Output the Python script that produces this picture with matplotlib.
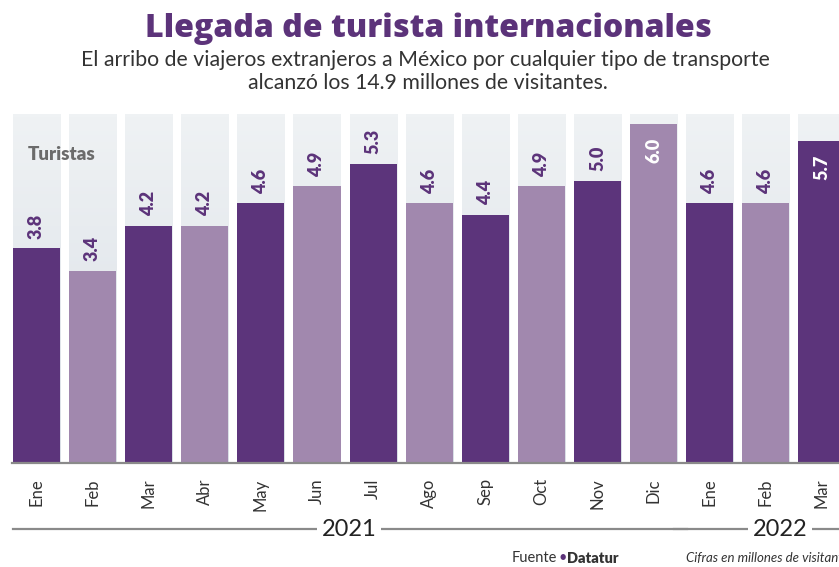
import matplotlib
matplotlib.use('Agg')
import matplotlib.pyplot as plt
import numpy as np
from matplotlib.colors import LinearSegmentedColormap

# data
months = ["Ene", "Feb", "Mar", "Abr", "May", "Jun", "Jul", "Ago", "Sep", "Oct", "Nov", "Dic",
          "Ene", "Feb", "Mar"]
values = [3.8, 3.4, 4.2, 4.2, 4.6, 4.9, 5.3, 4.6, 4.4, 4.9, 5.0, 6.0, 4.6, 4.6, 5.7]
years = ["2021", "2022"]
year_first_idx = [0, 12]
year_last_idx = [11, 14]

DARK = "#5c347b"
LIGHT = "#a188ae"
PURPLE = "#5c337a"
TXT = "#333333"
GRAY_LINE = "#8a8a8a"

NARROW = ['Lato', 'DejaVu Sans']
HEAD = ['Lato', 'DejaVu Sans']
TITLE = ['Open Sans', 'DejaVu Sans']

W, H = 839, 567
fig = plt.figure(figsize=(W / 100, H / 100), dpi=100)

# axes: bar centers every 56.1 px, first at 36.5 px; baseline at y=463 px, top at 114 px
step = 56.1
x0 = 36.5
bg_top = 6.18
ax = fig.add_axes([0, (H - 463) / H, 1, 349 / H])
ax.axis('off')

x = np.arange(len(values))
bw = 0.84
colors = [DARK if i % 2 == 0 else LIGHT for i in range(len(values))]

#background columns with a soft gradient
grad = LinearSegmentedColormap.from_list("bg", ["#d9dfe6", "#eff2f4"])
bgs = ax.bar(x, [bg_top] * len(x), width=bw, color="none", edgecolor="none", zorder=1)
g = np.linspace(0, 1, 100).reshape(-1, 1)
for i, p in zip(x, bgs):
    im = ax.imshow(g, cmap=grad, origin='lower', aspect='auto',
                   extent=(i - bw / 2, i + bw / 2, 0, bg_top), zorder=1)
    im.set_clip_path(p)
ax.set_xlim(-x0 / step, (W - x0) / step)
ax.set_ylim(0, bg_top)

ax.bar(x, values, width=bw, color=colors, zorder=2)
ax.axhline(0, color=GRAY_LINE, lw=1.6, zorder=3, xmin=12 / W, clip_on=False)

# value labels
for i, v in zip(x, values):
    if v > 5.5:
        ax.annotate(f"{v:.1f}", (i, v), xytext=(0, -10), textcoords='offset points',
                    rotation=90, ha='center', va='top', color='white',
                    fontsize=13, fontweight='heavy', family=NARROW, zorder=4)
    else:
        ax.annotate(f"{v:.1f}", (i, v), xytext=(0, 7), textcoords='offset points',
                    rotation=90, ha='center', va='bottom', color=PURPLE,
                    fontsize=13, fontweight='heavy', family=NARROW, zorder=4)

# month labels
for i, m in zip(x, months):
    ax.annotate(m, (i, 0), xytext=(0, -11), textcoords='offset points',
                rotation=90, ha='center', va='top', color=TXT, fontsize=12,
                family=NARROW, annotation_clip=False)

# year lines
yline = -66 / 349
trans = ax.get_xaxis_transform()
for yr, a, b in zip(years, year_first_idx, year_last_idx):
    left = a - bw / 2 if a == 0 else a - 0.64
    right = b + 0.6 if b < len(x) - 1 else (W - x0) / step
    ax.plot([left, right], [yline, yline], color=GRAY_LINE, lw=1.6,
            transform=trans, clip_on=False)
xt = [(349 - x0) / step, (780 - x0) / step]
for yr, xx in zip(years, xt):
    ax.text(xx, yline, yr, transform=trans, ha='center', va='center',
            fontsize=17, color='#222222', family=NARROW,
            bbox=dict(facecolor='white', edgecolor='none', pad=3))

fig.text(28 / W, 1 - 155 / H, "Turistas", ha='left', va='center', fontsize=13.5,
         fontweight='heavy', color='#6b6b6b', family=NARROW)

# titles
fig.text(428 / W, 1 - 37 / H, "Llegada de turista internacionales", ha='center',
         va='baseline', fontsize=23, fontweight='heavy', color=PURPLE, family=TITLE)
fig.text(425 / W, 1 - 66 / H,
         "El arribo de viajeros extranjeros a México por cualquier tipo de transporte",
         ha='center', va='baseline', fontsize=15.3, color=TXT, family=HEAD)
fig.text(428 / W, 1 - 89 / H, "alcanzó los 14.9 millones de visitantes.",
         ha='center', va='baseline', fontsize=15.3, color=TXT, family=HEAD)

# footer
t1 = fig.text(512 / W, 1 - 562 / H, "Fuente", ha='left', va='baseline',
              fontsize=10.5, color=TXT, family=NARROW)
t2 = ax.annotate("•", xy=(1, 0), xycoords=t1, xytext=(0.5, 0),
                 textcoords='offset points', ha='left', va='bottom',
                 fontsize=10.5, color=PURPLE, family=NARROW, annotation_clip=False)
ax.annotate("Datatur", xy=(1, 0), xycoords=t2, xytext=(0.5, 0),
            textcoords='offset points', ha='left', va='bottom',
            fontsize=10.5, fontweight='heavy', color=TXT, family=NARROW,
            annotation_clip=False)
fig.text(686 / W, 1 - 562 / H, "Cifras en millones de visitantes", ha='left',
         va='baseline', fontsize=9.5, style='italic', color=TXT, family=NARROW)

fig.savefig("out.png", dpi=100)
